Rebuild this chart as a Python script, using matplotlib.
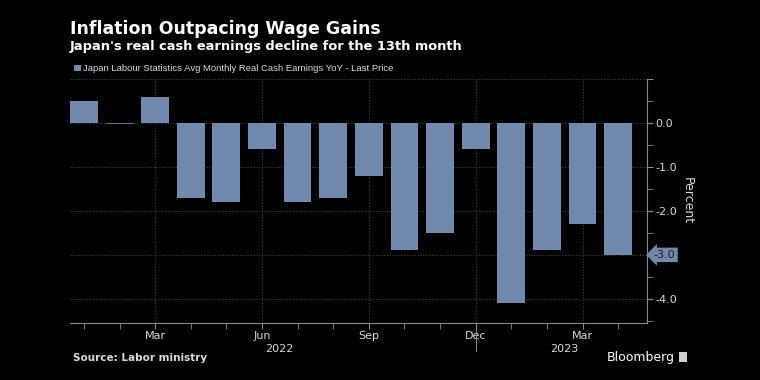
import matplotlib.pyplot as plt
import matplotlib.transforms as mtransforms
import numpy as np

# Japan real cash earnings, YoY %, Jan 2022 - Apr 2023
months = ["Jan", "Feb", "Mar", "Apr", "May", "Jun", "Jul", "Aug",
          "Sep", "Oct", "Nov", "Dec", "Jan", "Feb", "Mar", "Apr"]
years = [2022] * 12 + [2023] * 4
values = [0.5, 0.0, 0.6, -1.7, -1.8, -0.6, -1.8, -1.7,
          -1.2, -2.9, -2.5, -0.6, -4.1, -2.9, -2.3, -3.0]
labeled_months = ["Mar", "Jun", "Sep", "Dec"]
y_ticks = [1.0, 0.0, -1.0, -2.0, -3.0, -4.0]

bar_color = "#7189ad"
text_color = "#d9d9d9"
grid_color = "#404040"

plt.rcParams["axes.unicode_minus"] = False

fig = plt.figure(figsize=(7.6, 3.8), dpi=100, facecolor="black")
ax = fig.add_axes([0.0921, 0.15, 0.7592, 0.642], facecolor="black")

x = np.arange(len(values))
ax.bar(x, values, width=0.78, color=bar_color, zorder=3)
# zero-valued month still shows as a faint line in the original
for i, v in enumerate(values):
    if v == 0:
        ax.plot([i - 0.39, i + 0.39], [0, 0], color="#5a6a85", linewidth=0.8, zorder=3)

ax.set_xlim(-0.39, 15.81)
ax.set_ylim(-4.55, 1.0)

# x axis: a minor tick every month, labels only on the quarter months
major_idx = [i for i, m in enumerate(months) if m in labeled_months]
ax.set_xticks(major_idx)
ax.set_xticklabels([months[i] for i in major_idx])
ax.set_xticks(x, minor=True)
ax.tick_params(axis="x", which="both", direction="out", length=4,
               color="#8a8a8a", labelcolor=text_color, labelsize=8, pad=2)

# y axis on the right
ax.yaxis.tick_right()
ax.set_yticks(y_ticks)
ax.set_yticklabels(["" if v > 0 or v == values[-1] else f"{v:.1f}" for v in y_ticks])
ax.set_yticks(np.arange(-4.5, 1.0, 0.5), minor=True)
ax.tick_params(axis="y", which="both", direction="out", length=4,
               color="#8a8a8a", labelcolor=text_color, labelsize=8, pad=2)
ax.yaxis.set_label_position("right")
ax.set_ylabel("Percent", color=text_color, fontsize=9, rotation=270, labelpad=12)

ax.grid(True, which="major", linestyle=(0, (1, 1.5)), color=grid_color,
        linewidth=0.8, zorder=0)
for side in ["left", "top"]:
    ax.spines[side].set_visible(False)
for side in ["right", "bottom"]:
    ax.spines[side].set_color("#8a8a8a")

# year labels under the month labels
trans = mtransforms.blended_transform_factory(ax.transData, ax.transAxes)
for yr in sorted(set(years)):
    idx = [i for i, y in enumerate(years) if y == yr]
    ax.text(np.mean(idx), -0.088, str(yr), transform=trans, ha="center",
            va="top", color=text_color, fontsize=8)
ax.plot([11.0, 11.0], [-0.015, -0.115], transform=trans, color="#8a8a8a",
        linewidth=0.7, clip_on=False)

# last price tag
trans_y = mtransforms.blended_transform_factory(ax.transAxes, ax.transData)
ax.text(1.012, values[-1], f"{values[-1]:.1f}", transform=trans_y, ha="left",
        va="center", fontsize=8, color="#1b1b1b",
        bbox=dict(boxstyle="larrow,pad=0.2", facecolor=bar_color, edgecolor="none"))

# titles, legend, footer
fig.text(0.092, 0.925, "Inflation Outpacing Wage Gains", color="white",
         fontsize=12.5, fontweight="bold", va="center")
fig.text(0.092, 0.877, "Japan's real cash earnings decline for the 13th month",
         color="white", fontsize=9.4, fontweight="bold", va="center")
fig.patches.append(plt.Rectangle((0.0975, 0.813), 0.0085, 0.017, facecolor=bar_color,
                                 transform=fig.transFigure, figure=fig))
fig.text(0.109, 0.821, "Japan Labour Statistics Avg Monthly Real Cash Earnings YoY - Last Price",
         color=text_color, fontsize=6.8, family="Liberation Sans", va="center")
fig.text(0.096, 0.058, "Source: Labor ministry", color=text_color,
         fontsize=7.5, fontweight="bold", va="center")
fig.text(0.888, 0.06, "Bloomberg", color="white", fontsize=9, ha="right", va="center")
fig.patches.append(plt.Rectangle((0.893, 0.047), 0.011, 0.026, facecolor="#cfcfcf",
                                 transform=fig.transFigure, figure=fig))

fig.savefig("out.png", dpi=100, facecolor="black")
